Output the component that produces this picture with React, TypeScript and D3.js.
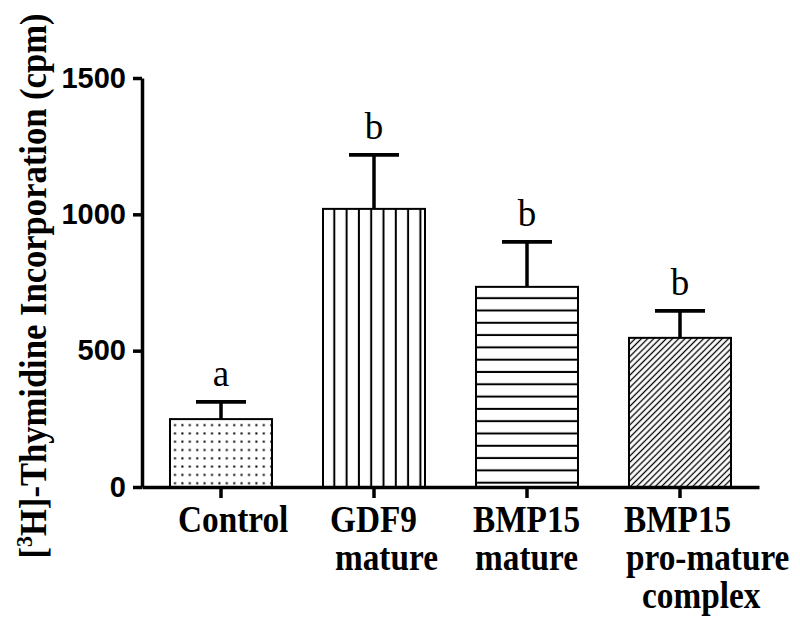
import React, { useRef, useEffect } from "react";
import * as d3 from "d3";

// values
const categories = ["Control", "GDF9 mature", "BMP15 mature", "BMP15 pro-mature complex"];
const means = [249, 1020, 734, 547];
const sems = [63, 198, 165, 99];
const letters = ["a", "b", "b", "b"];
const yTicks = [0, 500, 1000, 1500];
const labelLines = [["Control"], ["GDF9", "mature"], ["BMP15", "mature"], ["BMP15", "pro-mature", "complex"]];
const fills = ["dots", "vlines", "hlines", "diag"];

const W = 800;
const H = 623;
const left = 142;
const right = 759;
const top = 78;
const bottom = 487;

// nudges so the label lines sit like the original (left edge offset from bar)
const labelShift = [[8], [7, 12], [-3, -1], [-5, -3, 13]];
const serif = "'Liberation Serif', 'Times New Roman', serif";

const App = () => {
  const yAxisRef = useRef<SVGGElement>(null);
  const xAxisRef = useRef<SVGGElement>(null);

  const x = d3.scaleBand().domain(categories).range([left, right]).paddingInner(1 / 3).paddingOuter(0.183);
  const y = d3.scaleLinear().domain([0, 1500]).range([bottom, top]);
  const bw = x.bandwidth();

  useEffect(() => {
    const ya = d3.axisLeft(y).tickValues(yTicks).tickSize(9).tickSizeOuter(0).tickPadding(7).tickFormat(d3.format("d"));
    const g = d3.select(yAxisRef.current);
    g.call(ya as any);
    g.select(".domain").attr("stroke-width", 3.5);
    g.selectAll(".tick line").attr("stroke-width", 3.5);
    g.selectAll(".tick text")
      .attr("font-family", "'Liberation Sans', Arial, sans-serif")
      .attr("font-weight", "bold")
      .attr("font-size", 29)
      .attr("fill", "#000");

    const xa = d3.axisBottom(x).tickSize(11).tickSizeOuter(0).tickFormat(() => "");
    const gx = d3.select(xAxisRef.current);
    gx.call(xa as any);
    gx.select(".domain").attr("stroke-width", 3.5);
    gx.selectAll(".tick line").attr("stroke-width", 3.5);
  }, []);

  return (
    <svg width={W} height={H} style={{ position: "absolute", left: 0, top: 0, background: "#fff" }}>
      <defs>
        <pattern id="dots" patternUnits="userSpaceOnUse" width={7.4} height={8.3} x={x(categories[0])} y={y(means[0])}>
          <rect x={4} y={5} width={2} height={2} fill="#000" />
        </pattern>
        <pattern id="vlines" patternUnits="userSpaceOnUse" width={12.3} height={10} x={x(categories[1])} y={0}>
          <line x1={11.3} x2={11.3} y1={0} y2={10} stroke="#000" strokeWidth={2} />
        </pattern>
        <pattern id="hlines" patternUnits="userSpaceOnUse" width={10} height={12.3} x={0} y={y(means[2])}>
          <line x1={0} x2={10} y1={11.3} y2={11.3} stroke="#000" strokeWidth={2} />
        </pattern>
        <pattern id="diag" patternUnits="userSpaceOnUse" width={4.4} height={4.4} patternTransform="rotate(45)">
          <line x1={2.2} x2={2.2} y1={0} y2={4.4} stroke="#000" strokeWidth={1.3} />
        </pattern>
      </defs>

      {categories.map((c, i) => {
        const x0 = x(c) as number;
        const cx = x0 + bw / 2;
        const yTop = y(means[i]);
        const yErr = y(means[i] + sems[i]);
        return (
          <g key={c}>
            <line x1={cx} x2={cx} y1={yTop} y2={yErr} stroke="#000" strokeWidth={3.5} />
            <line x1={cx - 25} x2={cx + 25} y1={yErr} y2={yErr} stroke="#000" strokeWidth={3.8} />
            <rect x={x0} y={yTop} width={bw} height={bottom - yTop} fill={`url(#${fills[i]})`} stroke="#000" strokeWidth={2} />
            <text x={cx} y={yErr - 16} textAnchor="middle" fontFamily={serif} fontSize={37}>
              {letters[i]}
            </text>
            {labelLines[i].map((ln, j) => (
              <text
                key={j}
                transform={`translate(${x0 + labelShift[i][j]},${bottom + 45 + j * 38}) scale(0.9,1)`}
                fontFamily={serif}
                fontWeight="bold"
                fontSize={37}
              >
                {ln}
              </text>
            ))}
          </g>
        );
      })}

      <g ref={xAxisRef} transform={`translate(0,${bottom})`} />
      <g ref={yAxisRef} transform={`translate(${left},0)`} />

      <text
        transform={`translate(46,286) rotate(-90) scale(0.91,1)`}
        textAnchor="middle"
        fontFamily={serif}
        fontWeight="bold"
        fontSize={38}
      >
        [<tspan fontSize={24} dy={-14}>3</tspan>
        <tspan dy={14}>H]-Thymidine Incorporation (cpm)</tspan>
      </text>
    </svg>
  );
};

export default App;
